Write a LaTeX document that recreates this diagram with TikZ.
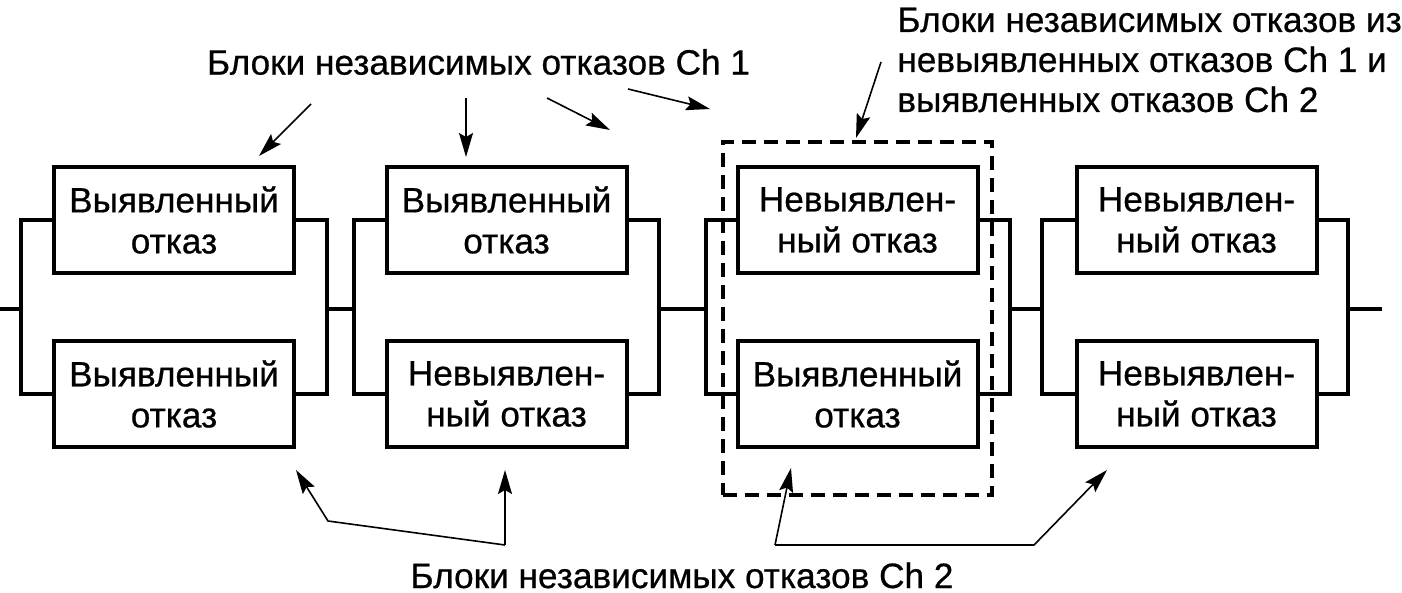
\documentclass[tikz,border=0pt]{standalone}
\usepackage{fontspec}
\setmainfont[FakeBold=0.6]{Liberation Sans}
\usetikzlibrary{arrows.meta}
\begin{document}
\begin{tikzpicture}[x=0.5pt,y=-0.5pt,
  blk/.style={draw,line width=2pt,minimum width=120pt,minimum height=53pt,align=center,inner sep=0pt,font=\fontsize{17.6}{20.5}\selectfont},
  wire/.style={line width=2pt},
  lbl/.style={font=\fontsize{17.6}{20}\selectfont,inner sep=0pt},
  arr/.style={line width=0.8pt,-{Stealth[length=12pt,width=7pt,inset=2pt]}},
  grp/.style={draw,line width=2pt,dash pattern=on 7pt off 4pt,minimum width=134.5pt,minimum height=176.5pt,inner sep=0pt}]
\useasboundingbox (0,0) rectangle (1402,593);
% blocks
\node[blk] (u1) at (174,220) {Выявленный\\отказ};
\node[blk] (l1) at (174,394) {Выявленный\\отказ};
\node[blk] (u2) at (506.5,220) {Выявленный\\отказ};
\node[blk] (l2) at (506.5,394) {Невыявлен-\\ный отказ};
\node[blk] (u3) at (857.5,220) {Невыявлен-\\ный отказ};
\node[blk] (l3) at (857.5,394) {Выявленный\\отказ};
\node[blk] (u4) at (1196.5,220) {Невыявлен-\\ный отказ};
\node[blk] (l4) at (1196.5,394) {Невыявлен-\\ный отказ};
\node[grp] (g3) at (857.5,318.5) {};
% junctions
\coordinate (s0) at (0,309);
\coordinate (a1) at (21,309);  \coordinate (b1) at (327,309);
\coordinate (a2) at (354,309); \coordinate (b2) at (659,309);
\coordinate (a3) at (706,309); \coordinate (b3) at (1010,309);
\coordinate (a4) at (1042,309); \coordinate (b4) at (1348,309);
\coordinate (s5) at (1382,309);
\draw[wire] (s0) -- (a1);
\draw[wire] (b1) -- (a2);
\draw[wire] (b2) -- (a3);
\draw[wire] (b3) -- (a4);
\draw[wire] (b4) -- (s5);
\foreach \i in {1,2,3,4}{
  \draw[wire] (u\i.west) -| (a\i) |- (l\i.west);
  \draw[wire] (u\i.east) -| (b\i) |- (l\i.east);
}
% labels
\node[lbl] (t1) at (478.5,62) {Блоки независимых отказов Ch 1};
\node[lbl,align=left,anchor=west] (t2) at (897,60) {Блоки независимых отказов из\\невыявленных отказов Ch 1 и\\выявленных отказов Ch 2};
\node[lbl,anchor=base,text depth=0pt] (t3) at (682,588) {Блоки независимых отказов Ch 2};
% top arrows
\coordinate (p1) at (311,104); \coordinate (q1) at (259,156);
\coordinate (p2) at (466,98);  \coordinate (q2) at (466,157);
\coordinate (p3) at (547,98);  \coordinate (q3) at (610,130);
\coordinate (p4) at (628,89);  \coordinate (q4) at (710,109);
\coordinate (p5) at (881,62);  \coordinate (q5) at (856,138);
\foreach \i in {1,...,5}{ \draw[arr] (p\i) -- (q\i); }
% bottom arrows
\coordinate (m1) at (505,545); \coordinate (k1) at (328,521);
\coordinate (e1) at (296,470); \coordinate (e2) at (505,470);
\coordinate (m2) at (775,545); \coordinate (k2) at (1034,545);
\coordinate (e3) at (791,468); \coordinate (e4) at (1107,470);
\draw[arr] (m1) -- (k1) -- (e1);
\draw[arr] (m1) -- (e2);
\draw[arr] (m2) -- (e3);
\draw[arr] (m2) -- (k2) -- (e4);
\end{tikzpicture}
\end{document}
